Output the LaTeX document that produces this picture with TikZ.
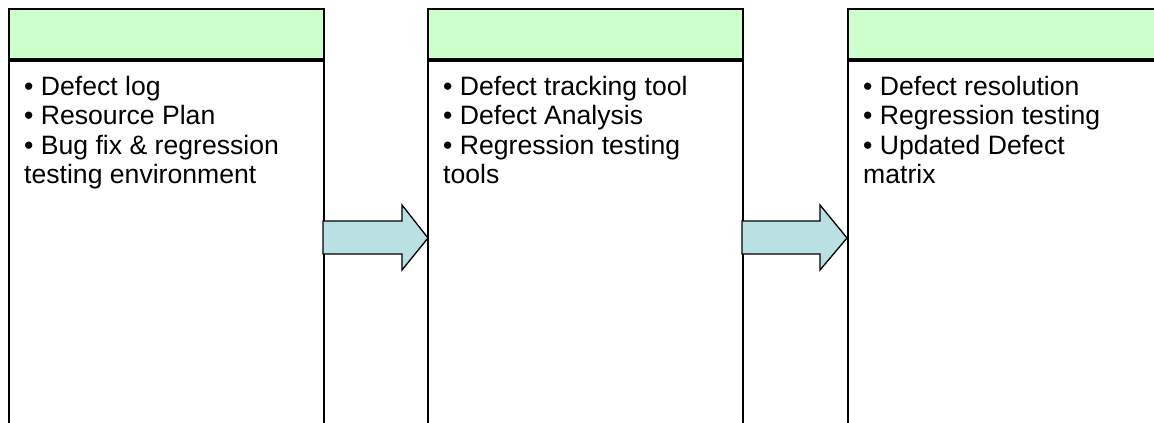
\documentclass[tikz,border=0pt]{standalone}
\usepackage{fontspec}
\setmainfont{Liberation Sans}
\definecolor{hdrgreen}{HTML}{CCFFCC}
\definecolor{arrowteal}{RGB}{187,224,227}
\tikzset{
  colhead/.style={rectangle, draw=black, line width=1.6pt, fill=hdrgreen,
    anchor=north west, inner sep=0pt, minimum width=315pt, minimum height=50pt},
  colbody/.style={rectangle, draw=black, line width=1.6pt, fill=white,
    anchor=north west, inner sep=0pt, minimum width=315pt, minimum height=420pt},
  itemlist/.style={anchor=north west, inner sep=0pt, align=left,
    font=\fontsize{26.6}{29.5}\selectfont},
  blockarrow/.style={draw=black, line width=1.3pt, fill=arrowteal, line join=miter},
}
\begin{document}
\begin{tikzpicture}[x=1pt,y=-1pt]
  \clip (0,0) rectangle (1154,423);
  \fill[white] (0,0) rectangle (1154,423);

  % three columns: green title bar over a tall white body
  \node[colhead] (h1) at (8,8) {};
  \node[colbody] (b1) at (8,60) {};
  \node[colhead] (h2) at (427,8) {};
  \node[colbody] (b2) at (427,60) {};
  \node[colhead] (h3) at (847,8) {};
  \node[colbody] (b3) at (847,60) {};

  % item lists
  \node[itemlist] (t1) at (24,76)
    {• Defect log\\• Resource Plan\\• Bug fix \& regression\\testing environment};
  \node[itemlist] (t2) at (443,76)
    {• Defect tracking tool\\• Defect Analysis\\• Regression testing\\tools};
  \node[itemlist] (t3) at (863,76)
    {• Defect resolution\\• Regression testing\\• Updated Defect\\matrix};

  % block arrows between the columns
  \draw[blockarrow] (323,221) -- (402,221) -- (402,205) -- (428,238)
    -- (402,270) -- (402,254) -- (323,254) -- cycle;
  \draw[blockarrow] (742,221) -- (820,221) -- (820,205) -- (847,238)
    -- (820,270) -- (820,254) -- (742,254) -- cycle;
\end{tikzpicture}
\end{document}
